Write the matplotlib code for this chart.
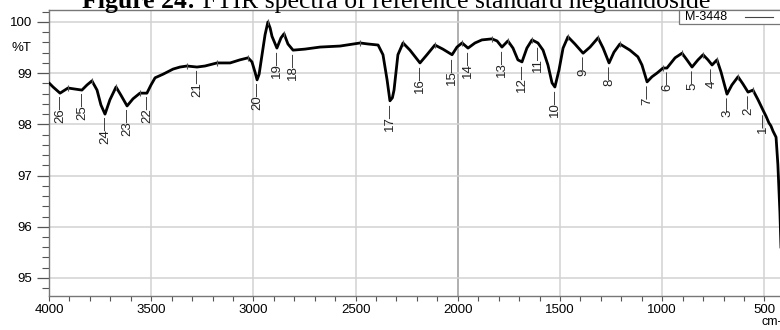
import numpy as np
import matplotlib
matplotlib.use("Agg")
import matplotlib.pyplot as plt
from matplotlib.patches import Rectangle
from matplotlib.lines import Line2D

# ---- data ----
wavenumber = [4000, 3980, 3946, 3907, 3873, 3839, 3814, 3790, 3765, 3746, 3726, 3702,
              3672, 3648, 3618, 3589, 3555, 3521, 3501, 3481, 3442, 3393, 3359, 3325,
              3276, 3237, 3178, 3114, 3066, 3026, 3007, 2992, 2982, 2972, 2963, 2943, 2929, 2918, 2909,
              2885, 2865, 2850, 2831, 2806, 2748, 2674, 2576, 2478, 2439, 2390, 2366,
              2346, 2332, 2320, 2312, 2293, 2268, 2234, 2185, 2151, 2112, 2073, 2028, 2004,
              1979, 1950, 1916, 1882, 1833, 1808, 1784, 1755, 1730, 1706, 1686, 1662,
              1637, 1608, 1583, 1559, 1539, 1525, 1505, 1485, 1461, 1427, 1387, 1353,
              1314, 1289, 1260, 1236, 1207, 1158, 1119, 1099, 1074, 1050, 1026, 996,
              977, 937, 903, 879, 854, 825, 800, 776, 756, 732, 712, 683, 659, 629,
              605, 580, 556, 531, 507, 492, 478, 468, 458, 443, 434, 424, 414]
transmittance = [98.81, 98.73, 98.61, 98.71, 98.69, 98.67, 98.77, 98.85, 98.67, 98.38, 98.20, 98.48,
                 98.73, 98.57, 98.36, 98.50, 98.61, 98.61, 98.77, 98.91, 98.98, 99.08, 99.12, 99.14,
                 99.12, 99.14, 99.20, 99.20, 99.26, 99.30, 99.22, 99.02, 98.87, 98.98, 99.22, 99.75, 100.0, 99.88, 99.72,
                 99.49, 99.69, 99.77, 99.57, 99.45, 99.47, 99.51, 99.53, 99.59, 99.57, 99.55, 99.36,
                 98.87, 98.46, 98.52, 98.67, 99.36, 99.59, 99.45, 99.20, 99.36, 99.55, 99.47, 99.36, 99.51,
                 99.59, 99.49, 99.59, 99.65, 99.67, 99.63, 99.51, 99.63, 99.49, 99.26, 99.22, 99.49,
                 99.65, 99.59, 99.45, 99.16, 98.81, 98.73, 99.06, 99.49, 99.71, 99.57, 99.39, 99.51,
                 99.69, 99.49, 99.20, 99.41, 99.57, 99.45, 99.32, 99.16, 98.83, 98.93, 99.00, 99.10,
                 99.10, 99.30, 99.39, 99.26, 99.12, 99.26, 99.36, 99.26, 99.16, 99.26, 99.02, 98.59, 98.77, 98.93,
                 98.79, 98.63, 98.67, 98.48, 98.28, 98.16, 98.03, 97.97, 97.87, 97.75, 97.21, 96.27, 94.96]

peak_numbers = [26, 25, 24, 23, 22, 21, 20, 19, 18, 17, 16, 15, 14, 13, 12, 11,
                10, 9, 8, 7, 6, 5, 4, 3, 2, 1]
peak_positions = [3946, 3839, 3726, 3618, 3521, 3276, 2982, 2885, 2806, 2332, 2185, 2028,
                  1950, 1784, 1686, 1608, 1525, 1387, 1260, 1074, 977, 854, 756, 683, 580, 507]

x_ticks = [4000, 3500, 3000, 2500, 2000, 1500, 1000, 500]
y_ticks = [95, 96, 97, 98, 99, 100]
legend_label = "M-3448"
title_bold = "Figure 24:"
title_rest = " FTIR spectra of reference standard neguandoside"

# ---- figure ----
W, H = 780, 330
fig = plt.figure(figsize=(W / 100, H / 100), dpi=100)
fig.patch.set_facecolor("white")
plt.rcParams["font.family"] = ["Liberation Sans", "DejaVu Sans"]

left_px, top_px, bottom_px = 49, 10, 296
x0, x1 = 4000, 400
px_per_unit = 102.2 / 500
right_px = left_px + (x0 - x1) * px_per_unit
ax = fig.add_axes([left_px / W, 1 - bottom_px / H, (right_px - left_px) / W,
                   (bottom_px - top_px) / H])
ax.set_xlim(x0, x1)
ax.set_ylim(94.648, 100.234)

# grid
for xt in x_ticks:
    c = "#9a9a9a" if xt == 2000 else "#d2d2d2"
    ax.axvline(xt, color=c, lw=1.1, zorder=0)
for yt in y_ticks:
    ax.axhline(yt, color="#d2d2d2", lw=1.1, zorder=0)

ax.plot(wavenumber, transmittance, color="black", lw=2.0, zorder=3,
        solid_joinstyle="round", solid_capstyle="round")

# small marks on local maxima
T = np.array(transmittance)
wn = np.array(wavenumber)
mx = [i for i in range(1, len(T) - 1) if T[i] >= T[i - 1] and T[i] >= T[i + 1] and wn[i] > 540]
ax.plot(wn[mx], T[mx], linestyle="none", marker="|", ms=5, mew=0.8, color="#555555", zorder=4)

# peak labels
wn_asc = wn[::-1]
T_asc = T[::-1]
for n, p in zip(peak_numbers, peak_positions):
    yv = np.interp(p, wn_asc, T_asc)
    ax.text(p, yv - 0.04, f"{n}\u2014", rotation=90, ha="center", va="top",
            fontsize=9.5, color="#222222", zorder=5)

# ticks
ax.set_xticks(x_ticks)
ax.set_xticks(np.arange(4000, 399, -100), minor=True)
ax.set_yticks(y_ticks)
ax.set_yticks(np.arange(94.8, 100.21, 0.2), minor=True)
ax.tick_params(axis="y", which="major", length=9, width=0.9, color="#555555",
               labelsize=9.5, pad=3)
ax.tick_params(axis="y", which="minor", length=5, width=0.8, color="#555555")
ax.tick_params(axis="x", which="both", length=3.5, width=0.8, color="#555555",
               labelsize=9.5, pad=2)
for s in ["left", "bottom", "top"]:
    ax.spines[s].set_color("#777777")
    ax.spines[s].set_linewidth(1.0)
ax.spines["right"].set_visible(False)

fig.text(12 / W, 1 - 48 / H, "%T", fontsize=9.5, ha="left", va="center")
fig.text(762 / W, 1 - 322 / H, "cm-1", fontsize=9, ha="left", va="center")

# legend box
fig.patches.append(Rectangle((679 / W, 1 - 24 / H), 110 / W, 14 / H,
                             transform=fig.transFigure, facecolor="white",
                             edgecolor="#777777", lw=0.9, zorder=10))
fig.text(685 / W, 1 - 17 / H, legend_label, fontsize=9, ha="left", va="center", zorder=11)
fig.lines.append(Line2D([745 / W, 773 / W], [1 - 17 / H, 1 - 17 / H],
                        transform=fig.transFigure, color="#444444", lw=0.8, zorder=11))

# title (top partly cut off, as in the reference)
fs = 18.5
base_y = 1 - 8 / H
t1 = fig.text(0, base_y, title_bold, fontsize=fs, fontweight="bold",
              family="Liberation Serif", ha="left", va="baseline")
t2 = fig.text(0, base_y, title_rest, fontsize=fs, family="Liberation Serif",
              ha="left", va="baseline")
fig.canvas.draw()
r = fig.canvas.get_renderer()
w1 = t1.get_window_extent(r).width
w2 = t2.get_window_extent(r).width
start = 396 - (w1 + w2) / 2
t1.set_x(start / W)
t2.set_x((start + w1) / W)

fig.savefig("out.png", dpi=100, facecolor="white")
